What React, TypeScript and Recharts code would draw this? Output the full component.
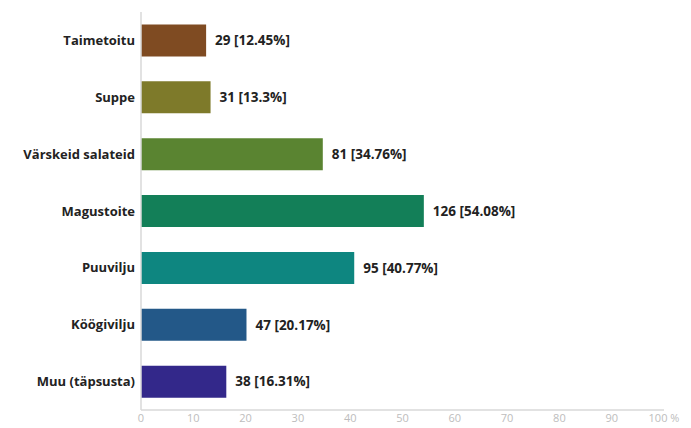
import React from "react";
import { BarChart, Bar, XAxis, YAxis, Cell, LabelList } from "recharts";

const categories = [
  "Taimetoitu",
  "Suppe",
  "Värskeid salateid",
  "Magustoite",
  "Puuvilju",
  "Köögivilju",
  "Muu (täpsusta)",
];
const counts = [29, 31, 81, 126, 95, 47, 38];
const percents = [12.45, 13.3, 34.76, 54.08, 40.77, 20.17, 16.31];
const colors = ["#7F4B22", "#7E7A2A", "#5A8431", "#137F58", "#0E8680", "#235888", "#33288A"];
const xTicks = [0, 10, 20, 30, 40, 50, 60, 70, 80, 90, 100];

const data = categories.map((name, i) => ({
  name,
  count: counts[i],
  pct: percents[i],
  label: `${counts[i]} [${percents[i]}%]`,
}));

const FONT = "'Open Sans', sans-serif";

export default function App() {
  return (
    <div style={{ position: "absolute", left: 0, top: 0, width: 691, height: 428, background: "#fff" }}>
      <BarChart
        width={691}
        height={428}
        data={data}
        layout="vertical"
        margin={{ top: 12, right: 27, bottom: 0, left: 0 }}
        barCategoryGap="22%"
      >
        <XAxis
          type="number"
          domain={[0, 100]}
          ticks={xTicks}
          interval={0}
          tickLine={false}
          tickSize={0}
          tickMargin={4}
          axisLine={{ stroke: "#d8d8d8", strokeWidth: 1.5 }}
          height={18}
          tick={{ fill: "#bdbdbd", fontSize: 11, fontFamily: FONT }}
          tickFormatter={(v: number) => (v === 100 ? "100 %" : String(v))}
        />
        <YAxis
          type="category"
          dataKey="name"
          width={141}
          tickLine={false}
          tickSize={0}
          tickMargin={6}
          axisLine={{ stroke: "#d8d8d8", strokeWidth: 1.5 }}
          tick={{ fill: "#222", fontSize: 13, fontWeight: 700, fontFamily: FONT }}
        />
        <Bar dataKey="pct" isAnimationActive={false}>
          {data.map((d, i) => (
            <Cell key={d.name} fill={colors[i]} />
          ))}
          <LabelList
            dataKey="label"
            position="right"
            offset={9}
            style={{ fill: "#222", fontSize: 13.5, fontWeight: 700, fontFamily: FONT }}
          />
        </Bar>
      </BarChart>
    </div>
  );
}
